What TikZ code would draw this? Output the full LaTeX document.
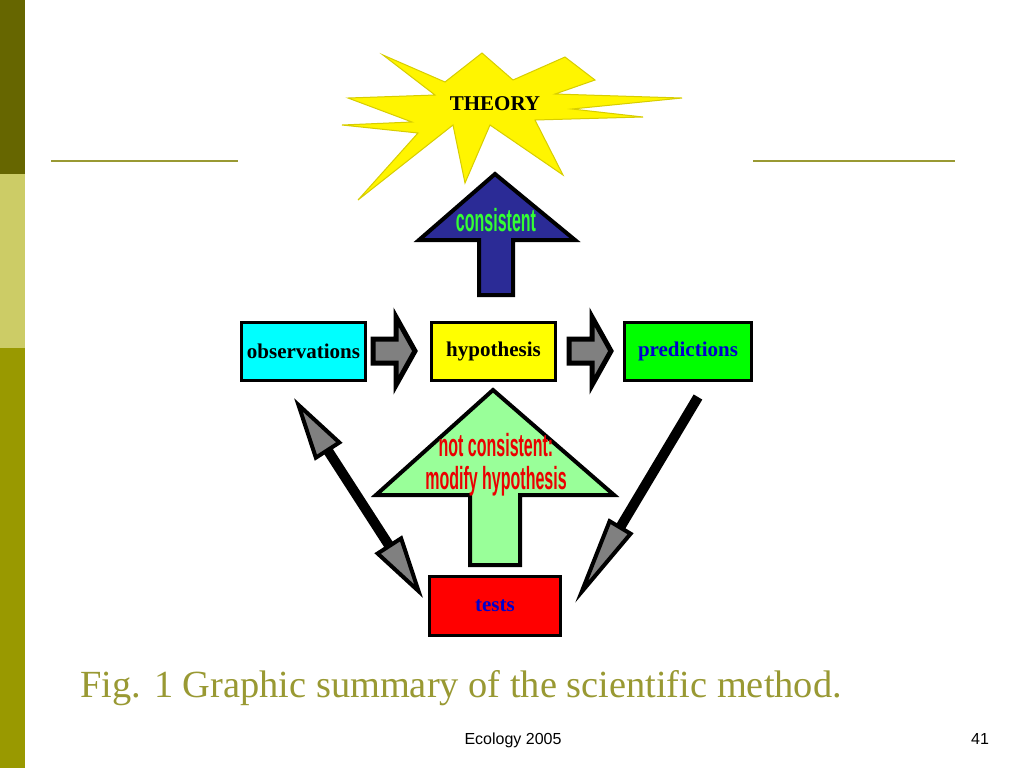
\documentclass[tikz,border=0pt]{standalone}
\usepackage{fontspec}
\setmainfont{Liberation Serif}
\newfontfamily\sansfont{Liberation Sans}
\newfontfamily\condfont[FakeStretch=0.5]{Liberation Sans Bold}
\usetikzlibrary{arrows.meta}
\definecolor{olivedark}{RGB}{102,102,0}
\definecolor{olivelight}{RGB}{204,204,102}
\definecolor{olivemid}{RGB}{153,153,0}
\definecolor{olivetext}{RGB}{153,153,51}
\definecolor{starfill}{RGB}{255,245,0}
\definecolor{staredge}{RGB}{215,205,0}
\definecolor{navyfill}{RGB}{43,43,150}
\definecolor{mint}{RGB}{153,255,153}
\definecolor{txtblue}{RGB}{0,0,204}
\definecolor{cyanfill}{RGB}{0,255,255}
\definecolor{yellowfill}{RGB}{255,255,0}
\definecolor{limefill}{RGB}{0,255,0}
\definecolor{redfill}{RGB}{255,0,0}
\definecolor{txtred}{RGB}{235,0,0}
\definecolor{txtgreen}{RGB}{51,255,51}
\definecolor{grayhead}{RGB}{128,128,128}
\tikzset{
  ghead/.tip={Triangle[length=32pt,width=16pt,line width'=2pt,fill=grayhead]},
  glong/.tip={Triangle[length=45pt,width=14pt,line width'=2pt,fill=grayhead]}
}
\begin{document}
\begin{tikzpicture}[x=0.5pt, y=-0.5pt,
  box/.style={draw, line width=1.5pt, minimum width=62pt, minimum height=29pt, inner sep=0pt, font=\fontsize{10.5}{12}\selectfont\bfseries},
  blk/.style={draw, line width=2.5pt, fill=grayhead, line join=miter},
  bigup/.style={draw, line width=2pt, line join=miter},
  cond/.style={font=\fontsize{16}{16.5}\selectfont\condfont, align=center, inner sep=0pt},
  rule/.style={olivetext, line width=1pt}]
	\useasboundingbox (0,0) rectangle (1024,768);
	\fill[white] (0,0) rectangle (1024,768);
	% side bar
	\fill[olivedark] (0,0) rectangle (25,174); \fill[olivelight] (0,174) rectangle (25,348); \fill[olivemid] (0,348) rectangle (25,768);
	\draw[rule] (51,161) -- (238,161); \draw[rule] (753,161) -- (955,161);

	% theory burst
	\draw[fill=starfill, draw=staredge, line width=0.5pt] (383,55) -- (445,82) -- (482,53) -- (513,80) -- (565,57) -- (595,80) -- (555,94) -- (682,98) -- (572,109) -- (643,117) -- (535,120) -- (563,175) -- (490,125) -- (465,183) -- (453,125) -- (358,200) -- (418,133) -- (342,125) -- (412,122) -- (348,98) -- (435,95) -- cycle;
	\node[font=\fontsize{10.5}{12}\selectfont\bfseries] (theory) at (495,104) {THEORY};

	% block arrows
	\draw[bigup, fill=navyfill] (479,295) -- (479,240) -- (419,240) -- (495,174) -- (575,240) -- (513,240) -- (513,295) -- cycle;
	\node[cond, text=txtgreen] (cons) at (496,220) {consistent};
	\draw[bigup, fill=mint] (470,565) -- (470,495) -- (376,495) -- (493,390) -- (614,495) -- (520,495) -- (520,565) -- cycle;
	\node[cond, text=txtred] (notcons) at (496,465) {not consistent:\\modify hypothesis};

	\coordinate (ga) at (373,339); \coordinate (gb) at (569,339);
	\draw[blk] (ga) -- ++(23,0) -- ++(0,-22) -- ++(19,34) -- ++(-19,34) -- ++(0,-22) -- ++(-23,0) -- cycle;
	\draw[blk] (gb) -- ++(23,0) -- ++(0,-22) -- ++(19,34) -- ++(-19,34) -- ++(0,-22) -- ++(-23,0) -- cycle;

	% boxes
	\node[box, fill=cyanfill] (obs) at (303.5,351.5) {observations};
	\node[box, fill=yellowfill] (hyp) at (493.5,351.5) {hypothesis};
	\node[box, fill=limefill, minimum width=63.5pt, text=txtblue] (pred) at (688,351.5) {predictions};
	\node[box, fill=redfill, minimum width=65.5pt, minimum height=29.5pt, text=txtblue] (tests) at (495,606) {tests};

	% diagonal arrows
	\coordinate (oa) at (294,398); \coordinate (ta) at (423,598);
	\coordinate (pa) at (698,397); \coordinate (tb) at (575,603);
	\draw[line width=5pt, ghead-ghead] (oa) -- (ta);
	\draw[line width=5pt, -glong] (pa) -- (tb);

	% caption
	\node[anchor=base west, inner sep=0pt, text=olivetext, font=\fontsize{19.2}{22}\selectfont] (cap) at (80,697) {Fig. 1 Graphic summary of the scientific method.};
	\node[anchor=base, inner sep=0pt, font=\sansfont\fontsize{8}{9}\selectfont] (foot) at (513,744) {Ecology 2005};
	\node[anchor=base, inner sep=0pt, font=\sansfont\fontsize{8}{9}\selectfont] (page) at (980,744) {41};
\end{tikzpicture}
\end{document}
